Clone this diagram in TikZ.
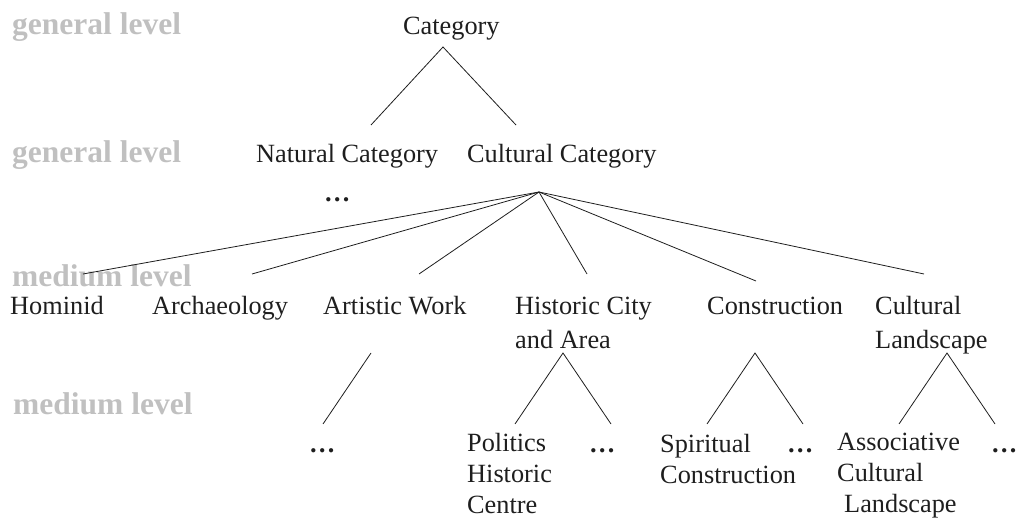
\documentclass[tikz,border=0pt]{standalone}
\usepackage{fontspec}
\setmainfont{Liberation Serif}
\definecolor{levelgray}{RGB}{192,192,192}
\definecolor{inkcol}{RGB}{30,30,30}
\begin{document}
\begin{tikzpicture}[x=1pt,y=-1pt,
  lvl/.style={anchor=base west,inner sep=0pt,text=levelgray,font=\fontsize{31.5}{36}\selectfont\bfseries},
  term/.style={anchor=base west,inner sep=0pt,text=inkcol,align=left,font=\fontsize{26.3}{31}\selectfont},
  wide/.style={term,font=\fontsize{26.3}{33}\selectfont},
  more/.style={term,font=\fontsize{26.3}{31}\selectfont\bfseries},
  edge/.style={draw=inkcol,line width=0.8pt}]
\useasboundingbox (0,0) rectangle (1019,518);

% level labels on the left
\node[lvl] (lvlA) at (12,35)  {general level};
\node[lvl] (lvlB) at (12,163) {general level};
\node[lvl] (lvlC) at (12,287) {medium level};
\node[lvl] (lvlD) at (13,414) {medium level};

% top of the hierarchy
\node[term] (cat) at (403,35)  {Category};
\node[term] (nat) at (256,163) {Natural Category};
\node[term] (cul) at (467,163) {Cultural Category};
\node[more] (natmore) at (324,202) {…};

% cultural subcategories (multi-line nodes sit on their last baseline)
\node[term] (hom) at (10,315)  {Hominid};
\node[term] (arc) at (152,315) {Archaeology};
\node[term] (art) at (323,315) {Artistic Work};
\node[wide] (his) at (515,348) {Historic City\\and Area};
\node[term] (con) at (707,315) {Construction};
\node[wide] (lan) at (875,348) {Cultural\\Landscape};

% bottom row
\node[more] (artmore) at (309,452) {…};
\node[term] (pol) at (467,513) {Politics\\Historic\\Centre};
\node[more] (hismore) at (589,452) {…};
\node[term] (spi) at (660,483) {Spiritual\\Construction};
\node[more] (conmore) at (787,452) {…};
\node[term] (ass) at (837,512) {Associative\\Cultural\\\hspace*{7pt}Landscape};
\node[more] (lanmore) at (991,452) {…};

% connector end points
\coordinate (catB) at (443,47);
\coordinate (natT) at (371,125);
\coordinate (culT) at (516,125);
\coordinate (culB) at (539,192);
\coordinate (homT) at (83,274);
\coordinate (arcT) at (252,274);
\coordinate (artT) at (419,274);
\coordinate (hisT) at (587,274);
\coordinate (conT) at (756,281);
\coordinate (lanT) at (924,274);
\coordinate (artB) at (371,353);
\coordinate (artmoreT) at (323,424);
\coordinate (hisB) at (563,353);
\coordinate (polT) at (515,424);
\coordinate (hismoreT) at (611,424);
\coordinate (conB) at (755,353);
\coordinate (spiT) at (707,424);
\coordinate (conmoreT) at (803,424);
\coordinate (lanB) at (947,353);
\coordinate (assT) at (899,424);
\coordinate (lanmoreT) at (995,424);

% connectors
\draw[edge] (natT) -- (catB) -- (culT);
\foreach \c in {homT,arcT,artT,hisT,conT,lanT}
  \draw[edge] (culB) -- (\c);
\draw[edge] (artB) -- (artmoreT);
\draw[edge] (polT) -- (hisB) -- (hismoreT);
\draw[edge] (spiT) -- (conB) -- (conmoreT);
\draw[edge] (assT) -- (lanB) -- (lanmoreT);
\end{tikzpicture}
\end{document}
